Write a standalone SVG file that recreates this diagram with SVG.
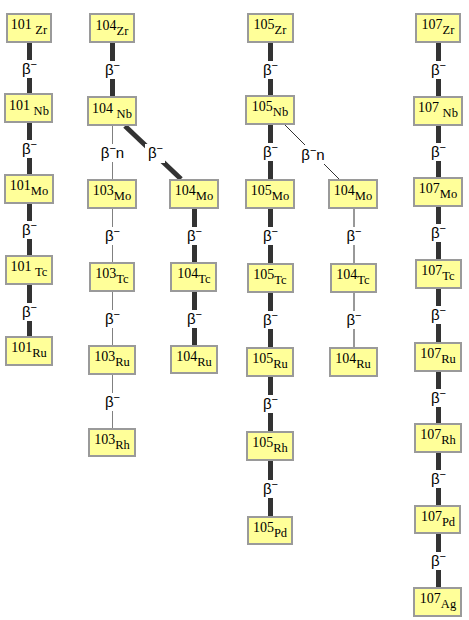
<svg xmlns="http://www.w3.org/2000/svg" width="469" height="620" viewBox="0 0 469 620">
<style>
.box{fill:#ffff99;stroke:#9a9a9a;stroke-width:2}
.nt{font-family:"Liberation Serif","Times New Roman",serif;font-size:14px;fill:#000;text-anchor:middle}
.sym{font-size:12.5px}
.thick{stroke:#333;stroke-width:5;fill:none}
.thin{stroke:#808080;stroke-width:1;fill:none}
.thind{stroke:#333;stroke-width:1;fill:none}
.lb{font-family:"Liberation Sans",Arial,sans-serif;font-size:15px;fill:#000;text-anchor:middle}
.sup{font-size:11px}
.bg{fill:#fff}
</style>
<rect width="469" height="620" fill="#fff"/>
<g id="connectors">
<line class="thick" x1="29.5" y1="43" x2="29.5" y2="93"/>
<line class="thick" x1="29.5" y1="123" x2="29.5" y2="174"/>
<line class="thick" x1="29.5" y1="204" x2="29.5" y2="255"/>
<line class="thick" x1="29.5" y1="285" x2="29.5" y2="336"/>
<line class="thick" x1="112.5" y1="43" x2="112.5" y2="96"/>
<line class="thin" x1="112.5" y1="126" x2="112.5" y2="179"/>
<line class="thin" x1="112.5" y1="209" x2="112.5" y2="262"/>
<line class="thin" x1="112.5" y1="292" x2="112.5" y2="345"/>
<line class="thin" x1="112.5" y1="375" x2="112.5" y2="428"/>
<line class="thick" x1="125" y1="126" x2="181" y2="179"/>
<line class="thick" x1="194.5" y1="209" x2="194.5" y2="262"/>
<line class="thick" x1="194.5" y1="292" x2="194.5" y2="345"/>
<line class="thick" x1="270.5" y1="43" x2="270.5" y2="95"/>
<line class="thick" x1="270.5" y1="125" x2="270.5" y2="179"/>
<line class="thick" x1="270.5" y1="209" x2="270.5" y2="263"/>
<line class="thick" x1="270.5" y1="293" x2="270.5" y2="347"/>
<line class="thick" x1="270.5" y1="377" x2="270.5" y2="431"/>
<line class="thick" x1="270.5" y1="461" x2="270.5" y2="516"/>
<line class="thind" x1="285" y1="125" x2="339" y2="179"/>
<line class="thind" x1="354" y1="209" x2="354" y2="263"/>
<line class="thind" x1="354" y1="293" x2="354" y2="347"/>
<line class="thick" x1="438.5" y1="43" x2="438.5" y2="96"/>
<line class="thick" x1="438.5" y1="126" x2="438.5" y2="177"/>
<line class="thick" x1="438.5" y1="207" x2="438.5" y2="259"/>
<line class="thick" x1="438.5" y1="289" x2="438.5" y2="342"/>
<line class="thick" x1="438.5" y1="372" x2="438.5" y2="423"/>
<line class="thick" x1="438.5" y1="453" x2="438.5" y2="505"/>
<line class="thick" x1="438.5" y1="534" x2="438.5" y2="587"/>
<g id="labels">
<rect class="bg" x="21" y="60" width="17" height="18"/><text class="lb" x="29.5" y="74">β<tspan class="sup" dy="-6">−</tspan></text>
<rect class="bg" x="21" y="140" width="17" height="18"/><text class="lb" x="29.5" y="154">β<tspan class="sup" dy="-6">−</tspan></text>
<rect class="bg" x="21" y="221" width="17" height="18"/><text class="lb" x="29.5" y="235">β<tspan class="sup" dy="-6">−</tspan></text>
<rect class="bg" x="21" y="303" width="17" height="18"/><text class="lb" x="29.5" y="317">β<tspan class="sup" dy="-6">−</tspan></text>

<rect class="bg" x="104" y="61" width="17" height="18"/><text class="lb" x="112.5" y="75">β<tspan class="sup" dy="-6">−</tspan></text>
<rect class="bg" x="100" y="144" width="25" height="18"/><text class="lb" x="112.5" y="158">β<tspan class="sup" dy="-6">−</tspan><tspan dy="6">n</tspan></text>
<rect class="bg" x="104" y="227" width="17" height="18"/><text class="lb" x="112.5" y="241">β<tspan class="sup" dy="-6">−</tspan></text>
<rect class="bg" x="104" y="310" width="17" height="18"/><text class="lb" x="112.5" y="324">β<tspan class="sup" dy="-6">−</tspan></text>
<rect class="bg" x="104" y="393" width="17" height="18"/><text class="lb" x="112.5" y="407">β<tspan class="sup" dy="-6">−</tspan></text>
<rect class="bg" x="145" y="144" width="20" height="19"/><text class="lb" x="155.5" y="158">β<tspan class="sup" dy="-6">−</tspan></text>
<rect class="bg" x="186" y="227" width="17" height="18"/><text class="lb" x="194.5" y="241">β<tspan class="sup" dy="-6">−</tspan></text>
<rect class="bg" x="186" y="310" width="17" height="18"/><text class="lb" x="194.5" y="324">β<tspan class="sup" dy="-6">−</tspan></text>

<rect class="bg" x="262" y="61" width="17" height="18"/><text class="lb" x="270.5" y="75">β<tspan class="sup" dy="-6">−</tspan></text>
<rect class="bg" x="262" y="143" width="17" height="18"/><text class="lb" x="270.5" y="157">β<tspan class="sup" dy="-6">−</tspan></text>
<rect class="bg" x="262" y="227" width="17" height="18"/><text class="lb" x="270.5" y="241">β<tspan class="sup" dy="-6">−</tspan></text>
<rect class="bg" x="262" y="311" width="17" height="18"/><text class="lb" x="270.5" y="325">β<tspan class="sup" dy="-6">−</tspan></text>
<rect class="bg" x="262" y="395" width="17" height="18"/><text class="lb" x="270.5" y="409">β<tspan class="sup" dy="-6">−</tspan></text>
<rect class="bg" x="262" y="480" width="17" height="18"/><text class="lb" x="270.5" y="494">β<tspan class="sup" dy="-6">−</tspan></text>
<rect class="bg" x="300" y="145" width="26" height="19"/><text class="lb" x="313" y="160">β<tspan class="sup" dy="-6">−</tspan><tspan dy="6">n</tspan></text>
<rect class="bg" x="346" y="227" width="17" height="18"/><text class="lb" x="354" y="241">β<tspan class="sup" dy="-6">−</tspan></text>
<rect class="bg" x="346" y="311" width="17" height="18"/><text class="lb" x="354" y="325">β<tspan class="sup" dy="-6">−</tspan></text>

<rect class="bg" x="430" y="61" width="17" height="18"/><text class="lb" x="438.5" y="75">β<tspan class="sup" dy="-6">−</tspan></text>
<rect class="bg" x="430" y="143" width="17" height="18"/><text class="lb" x="438.5" y="157">β<tspan class="sup" dy="-6">−</tspan></text>
<rect class="bg" x="430" y="224" width="17" height="18"/><text class="lb" x="438.5" y="238">β<tspan class="sup" dy="-6">−</tspan></text>
<rect class="bg" x="430" y="306" width="17" height="18"/><text class="lb" x="438.5" y="320">β<tspan class="sup" dy="-6">−</tspan></text>
<rect class="bg" x="430" y="389" width="17" height="18"/><text class="lb" x="438.5" y="403">β<tspan class="sup" dy="-6">−</tspan></text>
<rect class="bg" x="430" y="470" width="17" height="18"/><text class="lb" x="438.5" y="484">β<tspan class="sup" dy="-6">−</tspan></text>
<rect class="bg" x="430" y="552" width="17" height="18"/><text class="lb" x="438.5" y="566">β<tspan class="sup" dy="-6">−</tspan></text>
</g>
</g>
<g id="n101Zr"><rect class="box" x="7" y="14" width="44" height="28"/><text class="nt" x="29" y="29">101 <tspan class="sym" dy="5">Zr</tspan></text></g>
<g id="n101Nb"><rect class="box" x="5" y="94" width="47" height="28"/><text class="nt" x="29" y="110">101 <tspan class="sym" dy="5">Nb</tspan></text></g>
<g id="n101Mo"><rect class="box" x="5" y="175" width="48" height="28"/><text class="nt" x="29" y="190">101<tspan class="sym" dy="5">Mo</tspan></text></g>
<g id="n101Tc"><rect class="box" x="6" y="256" width="46" height="28"/><text class="nt" x="29" y="271">101 <tspan class="sym" dy="5">Tc</tspan></text></g>
<g id="n101Ru"><rect class="box" x="6" y="337" width="46" height="28"/><text class="nt" x="29" y="352">101<tspan class="sym" dy="5">Ru</tspan></text></g>

<g id="n104Zr"><rect class="box" x="90" y="14" width="44" height="28"/><text class="nt" x="112" y="30">104<tspan class="sym" dy="5">Zr</tspan></text></g>
<g id="n104Nb"><rect class="box" x="88" y="97" width="48" height="28"/><text class="nt" x="112" y="113">104 <tspan class="sym" dy="5">Nb</tspan></text></g>
<g id="n103Mo"><rect class="box" x="88" y="180" width="48" height="28"/><text class="nt" x="112" y="195">103<tspan class="sym" dy="5">Mo</tspan></text></g>
<g id="n103Tc"><rect class="box" x="90" y="263" width="44" height="28"/><text class="nt" x="112" y="278">103<tspan class="sym" dy="5">Tc</tspan></text></g>
<g id="n103Ru"><rect class="box" x="89" y="346" width="46" height="28"/><text class="nt" x="112" y="361">103<tspan class="sym" dy="5">Ru</tspan></text></g>
<g id="n103Rh"><rect class="box" x="89" y="429" width="46" height="27"/><text class="nt" x="112" y="444">103<tspan class="sym" dy="5">Rh</tspan></text></g>
<g id="n104Mo"><rect class="box" x="170" y="180" width="48" height="28"/><text class="nt" x="194" y="195">104<tspan class="sym" dy="5">Mo</tspan></text></g>
<g id="n104Tc"><rect class="box" x="171" y="263" width="45" height="28"/><text class="nt" x="194" y="278">104<tspan class="sym" dy="5">Tc</tspan></text></g>
<g id="n104Ru"><rect class="box" x="171" y="346" width="46" height="27"/><text class="nt" x="194" y="361">104<tspan class="sym" dy="5">Ru</tspan></text></g>

<g id="n105Zr"><rect class="box" x="248" y="14" width="45" height="28"/><text class="nt" x="270" y="29">105<tspan class="sym" dy="5">Zr</tspan></text></g>
<g id="n105Nb"><rect class="box" x="246" y="96" width="48" height="28"/><text class="nt" x="270" y="111">105<tspan class="sym" dy="5">Nb</tspan></text></g>
<g id="n105Mo"><rect class="box" x="246" y="180" width="48" height="28"/><text class="nt" x="270" y="195">105<tspan class="sym" dy="5">Mo</tspan></text></g>
<g id="n105Tc"><rect class="box" x="248" y="264" width="45" height="28"/><text class="nt" x="270" y="279">105<tspan class="sym" dy="5">Tc</tspan></text></g>
<g id="n105Ru"><rect class="box" x="247" y="348" width="46" height="28"/><text class="nt" x="270" y="363">105<tspan class="sym" dy="5">Ru</tspan></text></g>
<g id="n105Rh"><rect class="box" x="247" y="432" width="46" height="28"/><text class="nt" x="270" y="447">105<tspan class="sym" dy="5">Rh</tspan></text></g>
<g id="n105Pd"><rect class="box" x="248" y="517" width="44" height="27"/><text class="nt" x="270" y="532">105<tspan class="sym" dy="5">Pd</tspan></text></g>
<g id="n104Mo-b"><rect class="box" x="329" y="180" width="48" height="28"/><text class="nt" x="353" y="195">104<tspan class="sym" dy="5">Mo</tspan></text></g>
<g id="n104Tc-b"><rect class="box" x="331" y="264" width="45" height="28"/><text class="nt" x="353" y="279">104<tspan class="sym" dy="5">Tc</tspan></text></g>
<g id="n104Ru-b"><rect class="box" x="330" y="348" width="47" height="28"/><text class="nt" x="353" y="363">104<tspan class="sym" dy="5">Ru</tspan></text></g>

<g id="n107Zr"><rect class="box" x="416" y="14" width="44" height="28"/><text class="nt" x="438" y="29">107<tspan class="sym" dy="5">Zr</tspan></text></g>
<g id="n107Nb"><rect class="box" x="414" y="97" width="48" height="28"/><text class="nt" x="438" y="112">107 <tspan class="sym" dy="5">Nb</tspan></text></g>
<g id="n107Mo"><rect class="box" x="414" y="178" width="48" height="28"/><text class="nt" x="438" y="193">107<tspan class="sym" dy="5">Mo</tspan></text></g>
<g id="n107Tc"><rect class="box" x="416" y="260" width="45" height="28"/><text class="nt" x="438" y="275">107<tspan class="sym" dy="5">Tc</tspan></text></g>
<g id="n107Ru"><rect class="box" x="415" y="343" width="46" height="28"/><text class="nt" x="438" y="358">107<tspan class="sym" dy="5">Ru</tspan></text></g>
<g id="n107Rh"><rect class="box" x="415" y="424" width="46" height="28"/><text class="nt" x="438" y="439">107<tspan class="sym" dy="5">Rh</tspan></text></g>
<g id="n107Pd"><rect class="box" x="415" y="506" width="45" height="27"/><text class="nt" x="438" y="521">107<tspan class="sym" dy="5">Pd</tspan></text></g>
<g id="n107Ag"><rect class="box" x="414" y="588" width="47" height="28"/><text class="nt" x="438" y="603">107<tspan class="sym" dy="5">Ag</tspan></text></g>
</svg>
